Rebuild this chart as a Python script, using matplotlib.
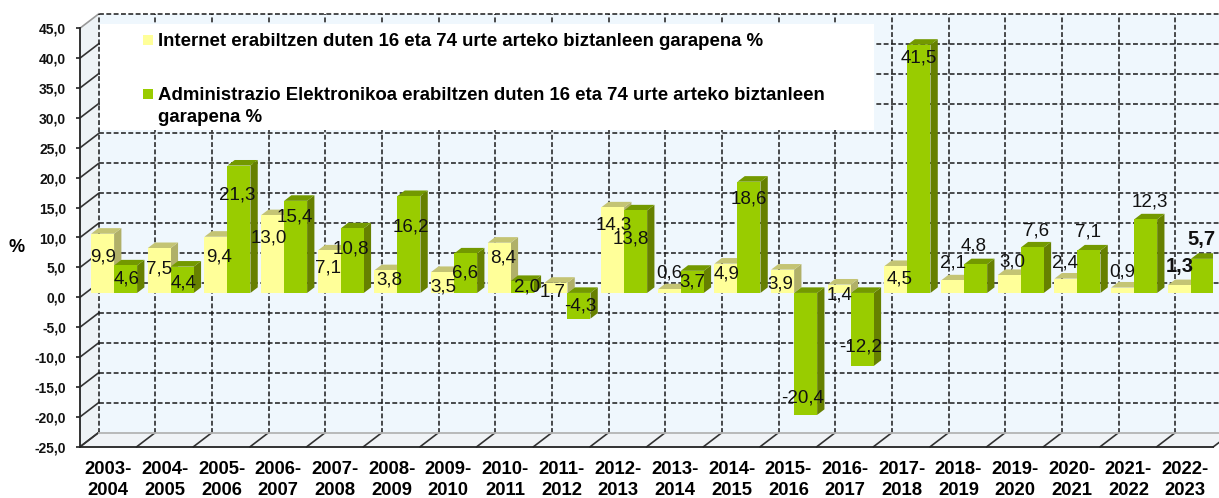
import matplotlib
matplotlib.use("Agg")
import matplotlib.pyplot as plt
from matplotlib.legend_handler import HandlerPatch
from matplotlib.patches import Patch, Rectangle

plt.rcParams['font.family'] = ['Liberation Sans', 'DejaVu Sans']

years = ["2003-\n2004", "2004-\n2005", "2005-\n2006", "2006-\n2007", "2007-\n2008",
         "2008-\n2009", "2009-\n2010", "2010-\n2011", "2011-\n2012", "2012-\n2013",
         "2013-\n2014", "2014-\n2015", "2015-\n2016", "2016-\n2017", "2017-\n2018",
         "2018-\n2019", "2019-\n2020", "2020-\n2021", "2021-\n2022", "2022-\n2023"]

internet = [9.9, 7.5, 9.4, 13.0, 7.1, 3.8, 3.5, 8.4, 1.7, 14.3,
            0.6, 4.9, 3.9, 1.4, 4.5, 2.1, 3.0, 2.4, 0.9, 1.3]
admin = [4.6, 4.4, 21.3, 15.4, 10.8, 16.2, 6.6, 2.0, -4.3, 13.8,
         3.7, 18.6, -20.4, -12.2, 41.5, 4.8, 7.6, 7.1, 12.3, 5.7]

y_ticks = [-25, -20, -15, -10, -5, 0, 5, 10, 15, 20, 25, 30, 35, 40, 45]

legend_internet = "Internet erabiltzen duten 16 eta 74 urte arteko biztanleen garapena %"
legend_admin = ("Administrazio Elektronikoa erabiltzen duten 16 eta 74 urte arteko biztanleen\n"
                "garapena %")

# hand placed data labels, pixels away from the bar end (dy positive = down)
internet_dx = [0, 0, 3, -4, -1, 3, 1, 4, -3, 1, 0, 1, -2, 0, 4, 0, 3, -1, 0, 0]
internet_dy = [23.5, 21, 20.5, 23, 18, 10, 15, 15.5, 9, 18,
               -16, 10, 14, 10, 13, -17, -13, -16, -16, -19]
admin_dx = [1, 1, -2, -1, -1, 2, -1, 5, 1, -5, 0, 0, -3, -2, 0, -2, 4, -1, 4, -1]
admin_dy = [14, 16, 29, 16, 21, 31, 20, 6, -13, 29,
            11, 17.5, -17, -19, 13.5, -18, -16, -18, -17, -19]

W, H = 1219, 498
CAT_PX = 56.67
UNIT_PX = 5.98
WALL_DX = 18.7 / CAT_PX    # depth of the box, in data units
WALL_DY = 14.3 / UNIT_PX
BAR_W = 23 / CAT_PX
BAR_GAP = 5.4 / CAT_PX
BAR_D0 = 0.305             # where the bars start inside the depth
BAR_D1 = 0.695

YELLOW = ('#FFFF99', '#C4C474', '#B0B068')
GREEN = ('#99CC00', '#739900', '#668000')

fig = plt.figure(figsize=(W / 100, H / 100), dpi=100)
ax = fig.add_axes([80 / W, (H - 446.8) / H, 20 * CAT_PX / W, 70 * UNIT_PX / H])
ax.set_xlim(0, 20)
ax.set_ylim(-25, 45)
ax.patch.set_visible(False)

# box walls
back = Rectangle((WALL_DX, -25 + WALL_DY), 21, 70, fc='#EFF7FD', ec='none', zorder=1, clip_on=False)
ax.add_patch(back)
ax.fill([0, WALL_DX, WALL_DX, 0], [-25, -25 + WALL_DY, 45 + WALL_DY, 45], fc='#EEF3F6', ec='none', zorder=1, clip_on=False)
ax.fill([0, 20, 20 + WALL_DX, WALL_DX], [-25, -25, -25 + WALL_DY, -25 + WALL_DY], fc='#F0F3F6', ec='none', zorder=1, clip_on=False)

for v in y_ticks[1:]:
    ax.plot([WALL_DX, 21], [v + WALL_DY] * 2, color='#1a1a1a', lw=1.1, ls=(0, (3.2, 1.6)), zorder=2, clip_on=False)
for v in y_ticks[:-1]:
    ax.plot([0, WALL_DX], [v, v + WALL_DY], color='#333333', lw=1.2, zorder=2, clip_on=False)
ax.plot([0, WALL_DX], [45, 45 + WALL_DY], color='#999999', lw=1.2, zorder=2, clip_on=False)
for k in range(21):
    ax.plot([k + WALL_DX] * 2, [-25 + WALL_DY, 45 + WALL_DY], color='#1a1a1a', lw=1.1, ls=(0, (3.2, 1.6)), zorder=2, clip_on=False)
    ax.plot([k, k + WALL_DX], [-25, -25 + WALL_DY], color='#333333', lw=1.2, zorder=2, clip_on=False)
ax.plot([WALL_DX, 21], [-25 + WALL_DY] * 2, color='#B4B4B4', lw=1.3, zorder=2, clip_on=False)

# white box behind the legend
ax.add_patch(Rectangle((100 / W, 1 - 130 / H), 774 / W, 106 / H, transform=fig.transFigure,
                       fc='white', ec='none', zorder=3, clip_on=False))


def draw_bar(x, value, colours):
    front, top, side = colours
    x0 = x + BAR_D0 * WALL_DX
    y0 = BAR_D0 * WALL_DY
    depth_x = (BAR_D1 - BAR_D0) * WALL_DX
    depth_y = (BAR_D1 - BAR_D0) * WALL_DY
    high = max(value, 0) + y0
    low = min(value, 0) + y0
    ax.fill([x0 + BAR_W, x0 + BAR_W + depth_x, x0 + BAR_W + depth_x, x0 + BAR_W],
            [low, low + depth_y, high + depth_y, high], fc=side, ec='none', zorder=4)
    ax.fill([x0, x0 + BAR_W, x0 + BAR_W + depth_x, x0 + depth_x],
            [high, high, high + depth_y, high + depth_y], fc=top, ec='none', zorder=4)
    ax.bar(x0, value, width=BAR_W, bottom=y0, align='edge', color=front, zorder=4)
    return x0 + BAR_W / 2, value + y0


for i in range(len(years)):
    xa, ya = draw_bar(i + BAR_GAP, internet[i], YELLOW)
    xb, yb = draw_bar(i + BAR_GAP + BAR_W, admin[i], GREEN)
    last = i == len(years) - 1
    ax.annotate(f"{internet[i]:.1f}".replace('.', ','), (xa, ya), xytext=(internet_dx[i], -internet_dy[i]),
                textcoords='offset pixels', ha='center', va='center', fontsize=14.5 if last else 13.5,
                fontweight='bold' if last else 'normal', color='#111111', zorder=6)
    ax.annotate(f"{admin[i]:.1f}".replace('.', ','), (xb, yb), xytext=(admin_dx[i], -admin_dy[i]),
                textcoords='offset pixels', ha='center', va='center', fontsize=14.5 if last else 13.5,
                fontweight='bold' if last else 'normal', color='#111111', zorder=6)

for name in ['top', 'right']:
    ax.spines[name].set_visible(False)
for name in ['left', 'bottom']:
    ax.spines[name].set_color('#222222')
    ax.spines[name].set_linewidth(1.3)
    ax.spines[name].set_zorder(5)

ax.set_yticks(y_ticks)
ax.set_yticklabels([f"{v:.1f}".replace('.', ',') for v in y_ticks], fontsize=10, fontweight='bold', color='#111111')
ax.set_xticks([k + 0.5 for k in range(20)])
ax.set_xticklabels(years, fontsize=13.3, fontweight='bold', color='black', linespacing=1.3)
ax.tick_params(axis='y', length=3, width=1.2, color='#222222', pad=7)
ax.tick_params(axis='x', length=0, pad=10)

fig.text(17 / W, 1 - 247 / H, "%", fontsize=13, fontweight='bold', ha='center', va='center')


def swatch(legend, orig_handle, xdescent, ydescent, width, height, fontsize):
    # 10 px square, a little under the top of the first text line
    return Rectangle((-xdescent, height - ydescent - 7.2 - 1.5), width, 7.2)


handles = [Patch(fc=YELLOW[0], ec='none'), Patch(fc=GREEN[0], ec='none')]
leg = ax.legend(handles, [legend_internet, legend_admin], loc='upper left', frameon=False,
                bbox_to_anchor=(143 / W, 1 - 33 / H), bbox_transform=fig.transFigure,
                borderpad=0, borderaxespad=0, prop={'size': 13.4, 'weight': 'bold'},
                handlelength=0.54, handleheight=0.54, handletextpad=0.26, labelspacing=2.0,
                labelcolor='black', handler_map={Patch: HandlerPatch(patch_func=swatch)})
leg.set_zorder(7)
leg.get_texts()[1].set_linespacing(1.35)
# swatch goes with the first line of a wrapped label
for row in leg._legend_handle_box.get_children()[0].get_children():
    row.align = 'top'

fig.savefig("out.png", dpi=100)
